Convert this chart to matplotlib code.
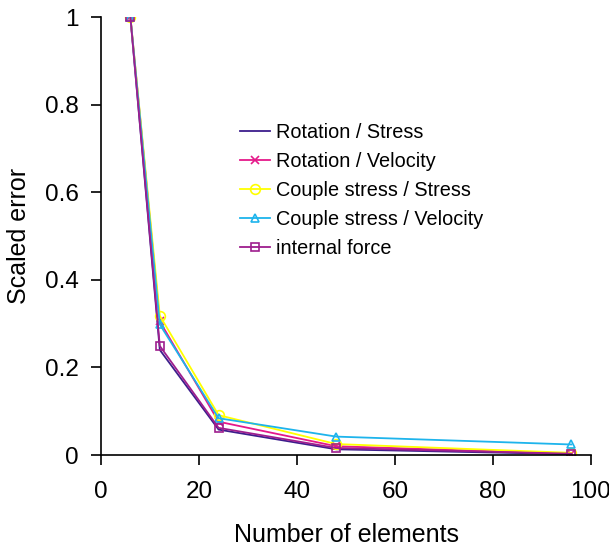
import matplotlib
matplotlib.use("Agg")
import matplotlib.pyplot as plt

plt.rcParams['font.family'] = ['Liberation Sans', 'DejaVu Sans']

elements = [6, 12, 24, 48, 96]
rot_stress = [1.0, 0.24, 0.058, 0.013, 0.002]
rot_velocity = [1.0, 0.305, 0.076, 0.020, 0.003]
couple_stress = [1.0, 0.318, 0.091, 0.025, 0.005]
couple_velocity = [1.0, 0.298, 0.084, 0.042, 0.024]
internal_force = [1.0, 0.249, 0.062, 0.016, 0.003]

x_ticks = [0, 20, 40, 60, 80, 100]
y_ticks = [0, 0.2, 0.4, 0.6, 0.8, 1.0]
y_tick_labels = ["0", "0.2", "0.4", "0.6", "0.8", "1"]

fig = plt.figure(figsize=(6.09, 5.55), dpi=100)
ax = fig.add_axes([101/609, 100/555, 490/609, 438/555])

ax.plot(elements, rot_stress, color='#3D1E8C', lw=1.3, label='Rotation / Stress')
ax.plot(elements, rot_velocity, color='#E5198A', lw=1.3, marker='x', ms=6,
        mew=1.2, label='Rotation / Velocity')
ax.plot(elements, couple_stress, color='#FFFF00', lw=1.3, marker='o', ms=7,
        mfc='none', mew=1.2, label='Couple stress / Stress')
ax.plot(elements, couple_velocity, color='#1EB4EC', lw=1.3, marker='^', ms=6,
        mfc='none', mew=1.2, label='Couple stress / Velocity')
ax.plot(elements, internal_force, color='#9E1E8E', lw=1.3, marker='s', ms=6,
        mfc='none', mew=1.2, label='internal force')

ax.set_xlim(0, 100)
ax.set_ylim(0, 1)
ax.set_xticks(x_ticks)
ax.set_yticks(y_ticks)
ax.set_yticklabels(y_tick_labels)
ax.tick_params(direction='out', length=7, width=1.2, labelsize=17.5, colors='black')
ax.tick_params(axis='x', pad=12)
ax.tick_params(axis='y', pad=9)
ax.spines['top'].set_visible(False)
ax.spines['right'].set_visible(False)
ax.spines['left'].set_linewidth(1.2)
ax.spines['bottom'].set_linewidth(1.2)
ax.set_xlabel('Number of elements', fontsize=18, labelpad=14)
ax.set_ylabel('Scaled error', fontsize=18, labelpad=10)

ax.legend(loc='upper left', bbox_to_anchor=(240/609, 1 - 123/555),
          bbox_transform=fig.transFigure, frameon=False,
          fontsize=14.3, handlelength=1.5, handletextpad=0.3,
          labelspacing=0.5, borderpad=0, borderaxespad=0)

fig.savefig('out.png', dpi=100)
